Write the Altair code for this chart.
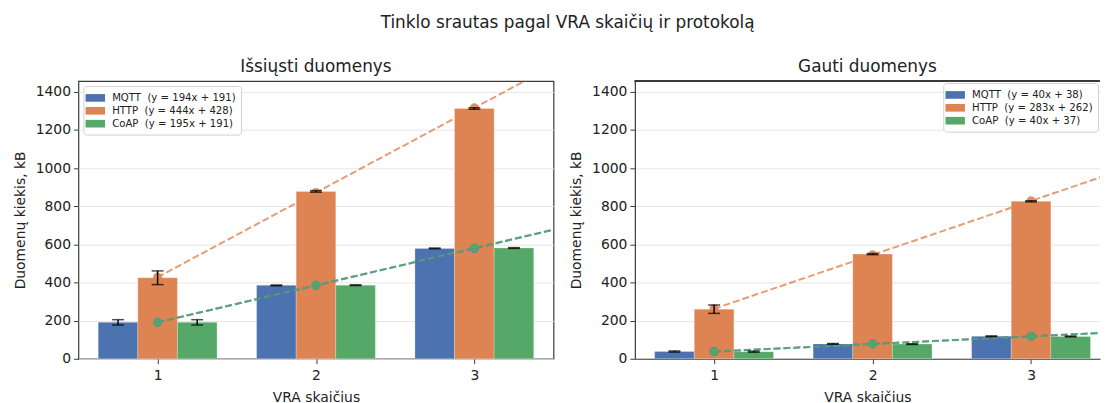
import altair as alt
import pandas as pd

# ---------------- data ----------------
VRA = [1, 2, 3]
PROTOCOLS = ["MQTT", "HTTP", "CoAP"]
COLORS = ["#4C72B0", "#DD8452", "#55A868"]

# Išsiųsti duomenys (sent)
SENT_MQTT = [191, 385, 579]
SENT_HTTP = [425, 878, 1313]
SENT_COAP = [191, 386, 581]
SENT_ERR_MQTT = [14, 2, 2]
SENT_ERR_HTTP = [36, 4, 4]
SENT_ERR_COAP = [14, 2, 2]
SENT_SLOPE = [194, 444, 195]
SENT_INTERCEPT = [191, 428, 191]

# Gauti duomenys (received)
RECV_MQTT = [38, 78, 118]
RECV_HTTP = [260, 549, 826]
RECV_COAP = [37, 77, 117]
RECV_ERR_MQTT = [3, 2, 2]
RECV_ERR_HTTP = [22, 3, 3]
RECV_ERR_COAP = [3, 2, 2]
RECV_SLOPE = [40, 283, 40]
RECV_INTERCEPT = [38, 262, 37]

Y_TICKS = [0, 200, 400, 600, 800, 1000, 1200, 1400]
X_TICKS = [1, 2, 3]

# ---------------- layout constants ----------------
OFFSETS = [-0.25, 0.0, 0.25]
BAR_W = 0.25
LINE_X = [1, 3.6]
Y_MAX = 1457
FONT = "DejaVu Sans"
FRAME = "#3a3a3a"
TEXT = "#222222"
PANEL_H = 280


def frames(values, errors, slopes, intercepts):
    labels = [f"{p}\u00a0\u00a0(y = {s}x + {b})" for p, s, b in zip(PROTOCOLS, slopes, intercepts)]
    bar_rows, line_rows, mark_rows = [], [], []
    for i, p in enumerate(PROTOCOLS):
        for j, v in enumerate(VRA):
            xc = v + OFFSETS[i]
            bar_rows.append({
                "label": labels[i], "x": xc, "x0": xc - BAR_W / 2, "x1": xc + BAR_W / 2,
                "value": values[i][j], "lo": values[i][j] - errors[i][j], "hi": values[i][j] + errors[i][j],
            })
            mark_rows.append({"label": labels[i], "x": v, "y": slopes[i] * (v - 1) + intercepts[i]})
        for xv in LINE_X:
            line_rows.append({"label": labels[i], "x": xv, "y": slopes[i] * (xv - 1) + intercepts[i]})
    return labels, pd.DataFrame(bar_rows), pd.DataFrame(line_rows), pd.DataFrame(mark_rows)


def panel(title, values, errors, slopes, intercepts, xmax, width, legend_orient, legend_offset, boxed):
    labels, bar_df, line_df, mark_df = frames(values, errors, slopes, intercepts)
    cscale = alt.Scale(domain=labels, range=COLORS)
    xscale = alt.Scale(domain=[0.5, xmax], nice=False, zero=False)
    yscale = alt.Scale(domain=[0, Y_MAX], nice=False)
    xaxis = alt.Axis(values=X_TICKS, tickCount=20, format="d", grid=False, domain=not boxed,
                     domainColor=FRAME, domainWidth=1.2, labelPadding=5, titlePadding=8,
                     labelOverlap=False)
    yaxis = alt.Axis(values=Y_TICKS, tickCount=20, format="d", grid=True, domain=not boxed,
                     domainColor=FRAME, domainWidth=1.2, labelPadding=3, titlePadding=8,
                     labelOverlap=False)
    xt = "VRA skaičius"
    yt = "Duomenų kiekis, kB"

    bars = alt.Chart(bar_df).mark_bar(stroke="white", strokeWidth=0.6, strokeOpacity=0.4).encode(
        x=alt.X("x0:Q", scale=xscale, axis=xaxis, title=xt),
        x2="x1:Q",
        y=alt.Y("value:Q", scale=yscale, axis=yaxis, title=yt),
        y2=alt.datum(0),
        color=alt.Color("label:N", scale=cscale, sort=labels, legend=alt.Legend(
            title=None, orient=legend_orient, offset=legend_offset, fillColor="white",
            strokeColor="#d0d0d0", cornerRadius=3, padding=5, labelFontSize=10.2, labelFont=FONT,
            labelColor=TEXT, symbolType="M-1.4,-0.55L1.4,-0.55L1.4,0.55L-1.4,0.55Z", symbolSize=196,
            symbolStrokeWidth=0, labelOffset=10, rowPadding=0, symbolOpacity=1)),
    )
    lines = alt.Chart(line_df).mark_line(strokeDash=[7, 3], strokeWidth=2, opacity=0.8, clip=True).encode(
        x=alt.X("x:Q", scale=xscale, axis=xaxis, title=xt),
        y=alt.Y("y:Q", scale=yscale, axis=yaxis, title=yt),
        detail="label:N",
        stroke=alt.Stroke("label:N", scale=cscale, legend=None),
    )
    marks = alt.Chart(mark_df).mark_circle(size=85, opacity=0.9).encode(
        x=alt.X("x:Q", scale=xscale, axis=xaxis, title=xt),
        y=alt.Y("y:Q", scale=yscale, axis=yaxis, title=yt),
        fill=alt.Fill("label:N", scale=cscale, legend=None),
    )
    err = alt.Chart(bar_df).mark_rule(color="black", strokeWidth=1.5).encode(
        x=alt.X("x:Q", scale=xscale, axis=xaxis, title=xt),
        y=alt.Y("lo:Q", scale=yscale, axis=yaxis, title=yt),
        y2="hi:Q",
    )
    caps = alt.Chart(bar_df).transform_fold(["lo", "hi"], as_=["cap", "capv"]).mark_tick(
        orient="horizontal", size=12, thickness=1.5, color="black").encode(
        x=alt.X("x:Q", scale=xscale, axis=xaxis, title=xt),
        y=alt.Y("capv:Q", scale=yscale, axis=yaxis, title=yt),
    )
    layers = [bars, lines, marks, err, caps]
    if not boxed:
        top = alt.Chart(bar_df).mark_rule(color=FRAME, strokeWidth=1.2).encode(
            x=alt.value(0), x2=alt.value(width), y=alt.value(0))
        layers.append(top)
    view = alt.ViewBackground(stroke=FRAME, strokeWidth=1.2) if boxed else alt.ViewBackground(strokeOpacity=0)
    return alt.layer(*layers).properties(
        width=width, height=PANEL_H, view=view,
        title=alt.TitleParams(title, fontSize=17, fontWeight="normal", font=FONT, color=TEXT, offset=5),
    ).resolve_scale(color="independent", stroke="independent", fill="independent")


left = panel("Išsiųsti duomenys",
             [SENT_MQTT, SENT_HTTP, SENT_COAP], [SENT_ERR_MQTT, SENT_ERR_HTTP, SENT_ERR_COAP],
             SENT_SLOPE, SENT_INTERCEPT, 3.5, 479, "top-left", 5, True)
right = panel("Gauti duomenys",
              [RECV_MQTT, RECV_HTTP, RECV_COAP], [RECV_ERR_MQTT, RECV_ERR_HTTP, RECV_ERR_COAP],
              RECV_SLOPE, RECV_INTERCEPT, 3.435, 469, "top-right", 2, False)

chart = alt.hconcat(left, right, spacing=15).resolve_scale(
    color="independent", stroke="independent", fill="independent", x="independent", y="independent"
).resolve_legend(color="independent").properties(
    title=alt.TitleParams("Tinklo srautas pagal VRA skaičių ir protokolą", fontSize=17,
                          fontWeight="normal", font=FONT, color=TEXT, anchor="middle", dx=11, offset=26),
    padding={"left": 4, "top": 4, "right": 0, "bottom": 0},
).configure(font=FONT).configure_axis(
    labelFontSize=14, titleFontSize=14, titleFontWeight="normal", labelFont=FONT, titleFont=FONT,
    labelColor=TEXT, titleColor=TEXT, tickColor=FRAME, tickSize=5, tickWidth=1,
    gridColor="#e6e6e6", gridWidth=1,
)

chart.save("out.html", embed_options={"renderer": "svg", "actions": False})
